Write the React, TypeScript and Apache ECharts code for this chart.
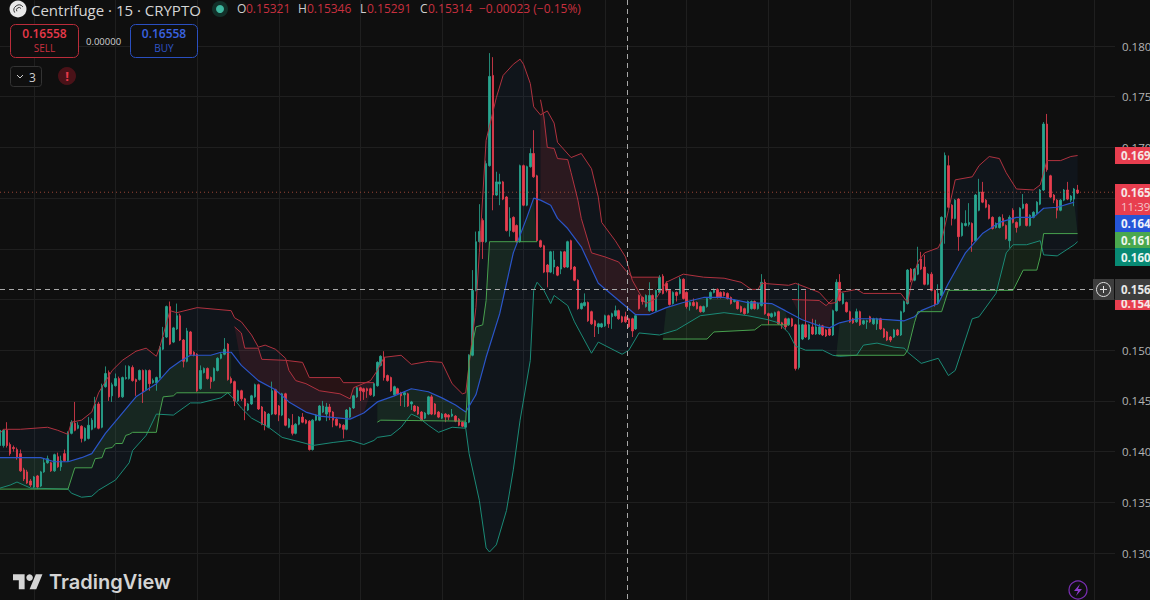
import React, { useEffect, useRef } from "react";
import * as echarts from "echarts";

// [open, close, low, high], one row per 15-minute candle
const candles: number[][] = [
[.1406,.1421,.1404,.1423],[.1406,.1421,.1404,.1422],[.1421,.1406,.1404,.1429],[.1407,.1398,.1396,.1409],[.1404,.1403,.1400,.1406],[.1402,.1394,.1392,.1404],[.1398,.1381,.1380,.1402],[.1382,.1373,.1371,.1384],[.1380,.1369,.1368,.1382],[.1371,.1367,.1365,.1373],
[.1365,.1375,.1364,.1376],[.1376,.1365,.1363,.1377],[.1366,.1380,.1365,.1381],[.1380,.1389,.1379,.1393],[.1389,.1393,.1388,.1396],[.1389,.1381,.1380,.1390],[.1381,.1397,.1380,.1398],[.1395,.1385,.1384,.1399],[.1385,.1391,.1381,.1396],[.1398,.1391,.1390,.1402],
[.1391,.1419,.1390,.1420],[.1418,.1429,.1417,.1431],[.1428,.1421,.1420,.1449],[.1423,.1426,.1422,.1429],[.1425,.1413,.1409,.1426],[.1411,.1423,.1410,.1424],[.1413,.1426,.1412,.1434],[.1422,.1431,.1421,.1433],[.1424,.1447,.1423,.1454],[.1447,.1423,.1422,.1449],
[.1424,.1465,.1423,.1467],[.1464,.1477,.1463,.1484],[.1478,.1454,.1450,.1480],[.1455,.1466,.1449,.1468],[.1465,.1472,.1464,.1477],[.1472,.1454,.1453,.1474],[.1454,.1473,.1453,.1474],[.1472,.1473,.1471,.1485],[.1472,.1484,.1471,.1485],[.1483,.1470,.1469,.1485],
[.1471,.1469,.1455,.1472],[.1471,.1480,.1470,.1481],[.1480,.1459,.1448,.1481],[.1461,.1480,.1460,.1481],[.1480,.1467,.1460,.1481],[.1468,.1470,.1467,.1472],[.1468,.1473,.1460,.1474],[.1473,.1503,.1472,.1504],[.1501,.1513,.1500,.1523],[.1513,.1543,.1512,.1544],
[.1543,.1506,.1505,.1548],[.1508,.1522,.1507,.1523],[.1521,.1534,.1520,.1546],[.1534,.1510,.1509,.1536],[.1510,.1489,.1483,.1511],[.1489,.1519,.1488,.1522],[.1518,.1496,.1495,.1519],[.1498,.1495,.1494,.1499],[.1496,.1460,.1459,.1497],[.1462,.1480,.1461,.1485],
[.1478,.1482,.1477,.1483],[.1482,.1472,.1471,.1483],[.1473,.1469,.1462,.1474],[.1470,.1482,.1469,.1483],[.1480,.1492,.1479,.1493],[.1492,.1496,.1491,.1497],[.1496,.1501,.1495,.1512],[.1506,.1471,.1470,.1507],[.1472,.1468,.1467,.1474],[.1469,.1450,.1445,.1470],
[.1450,.1460,.1449,.1461],[.1460,.1452,.1450,.1461],[.1452,.1445,.1431,.1453],[.1441,.1447,.1440,.1448],[.1447,.1455,.1446,.1456],[.1454,.1466,.1453,.1467],[.1466,.1442,.1441,.1467],[.1444,.1427,.1426,.1445],[.1439,.1426,.1421,.1440],[.1424,.1437,.1423,.1438],
[.1437,.1460,.1436,.1469],[.1461,.1437,.1436,.1462],[.1445,.1436,.1430,.1446],[.1436,.1457,.1435,.1458],[.1457,.1426,.1425,.1458],[.1424,.1432,.1423,.1433],[.1426,.1418,.1416,.1437],[.1418,.1427,.1417,.1428],[.1427,.1434,.1426,.1435],[.1434,.1429,.1428,.1438],
[.1431,.1428,.1427,.1432],[.1430,.1402,.1401,.1431],[.1402,.1431,.1401,.1432],[.1431,.1436,.1430,.1437],[.1431,.1445,.1430,.1446],[.1439,.1445,.1438,.1450],[.1437,.1444,.1430,.1448],[.1444,.1439,.1431,.1447],[.1439,.1431,.1424,.1440],[.1432,.1426,.1425,.1433],
[.1427,.1424,.1423,.1428],[.1426,.1422,.1413,.1427],[.1422,.1441,.1421,.1442],[.1434,.1443,.1433,.1444],[.1443,.1455,.1442,.1456],[.1454,.1463,.1453,.1464],[.1463,.1460,.1450,.1464],[.1462,.1459,.1451,.1463],[.1462,.1460,.1453,.1463],[.1462,.1456,.1455,.1463],
[.1455,.1467,.1454,.1468],[.1465,.1488,.1464,.1489],[.1485,.1494,.1484,.1495],[.1493,.1473,.1470,.1499],[.1475,.1470,.1469,.1476],[.1473,.1460,.1459,.1474],[.1456,.1464,.1455,.1465],[.1462,.1457,.1456,.1463],[.1458,.1455,.1445,.1459],[.1456,.1458,.1444,.1459],
[.1457,.1445,.1444,.1458],[.1447,.1449,.1441,.1450],[.1445,.1440,.1439,.1446],[.1444,.1437,.1436,.1445],[.1439,.1431,.1430,.1440],[.1433,.1438,.1432,.1439],[.1437,.1454,.1436,.1455],[.1454,.1437,.1436,.1456],[.1447,.1437,.1436,.1448],[.1439,.1434,.1433,.1440],
[.1433,.1437,.1432,.1438],[.1437,.1434,.1429,.1438],[.1436,.1434,.1431,.1437],[.1435,.1437,.1434,.1442],[.1435,.1430,.1429,.1436],[.1432,.1426,.1425,.1433],[.1429,.1425,.1424,.1430],[.1424,.1429,.1423,.1430],[.1429,.1495,.1428,.1496],[.1495,.1559,.1494,.1579],
[.1559,.1607,.1558,.1617],[.1607,.1617,.1606,.1644],[.1628,.1607,.1590,.1630],[.1607,.1684,.1606,.1687],[.1682,.1770,.1681,.1793],[.1771,.1653,.1638,.1789],[.1653,.1666,.1652,.1676],[.1664,.1666,.1643,.1674],[.1666,.1649,.1648,.1667],[.1651,.1618,.1617,.1652],
[.1618,.1630,.1612,.1641],[.1631,.1617,.1616,.1632],[.1623,.1607,.1606,.1624],[.1607,.1682,.1606,.1683],[.1682,.1643,.1642,.1683],[.1643,.1681,.1642,.1682],[.1681,.1694,.1680,.1699],[.1694,.1671,.1670,.1717],[.1672,.1608,.1607,.1673],[.1608,.1602,.1601,.1609],
[.1603,.1577,.1576,.1604],[.1584,.1577,.1562,.1585],[.1577,.1597,.1576,.1598],[.1582,.1589,.1575,.1598],[.1582,.1574,.1573,.1583],[.1580,.1597,.1575,.1598],[.1597,.1582,.1581,.1598],[.1582,.1607,.1581,.1608],[.1608,.1580,.1579,.1609],[.1582,.1569,.1568,.1583],
[.1569,.1541,.1540,.1570],[.1541,.1546,.1540,.1547],[.1544,.1547,.1543,.1556],[.1547,.1529,.1528,.1548],[.1538,.1526,.1525,.1539],[.1529,.1524,.1513,.1530],[.1523,.1526,.1516,.1527],[.1523,.1526,.1522,.1527],[.1524,.1534,.1523,.1535],[.1534,.1526,.1522,.1535],
[.1533,.1536,.1521,.1537],[.1534,.1539,.1533,.1544],[.1539,.1531,.1530,.1540],[.1533,.1528,.1527,.1534],[.1533,.1528,.1527,.1538],[.1531,.1523,.1522,.1532],[.1531,.1519,.1513,.1532],[.1521,.1534,.1520,.1535],[.1554,.1541,.1540,.1555],[.1552,.1548,.1545,.1553],
[.1543,.1554,.1542,.1555],[.1539,.1554,.1538,.1567],[.1554,.1539,.1538,.1555],[.1539,.1559,.1538,.1560],[.1557,.1572,.1556,.1574],[.1573,.1556,.1555,.1575],[.1566,.1559,.1557,.1568],[.1559,.1545,.1544,.1560],[.1546,.1557,.1545,.1558],[.1557,.1554,.1548,.1558],
[.1556,.1570,.1555,.1572],[.1570,.1551,.1550,.1571],[.1557,.1543,.1541,.1558],[.1544,.1547,.1539,.1548],[.1547,.1544,.1543,.1551],[.1547,.1541,.1540,.1548],[.1543,.1538,.1537,.1544],[.1538,.1543,.1537,.1544],[.1543,.1551,.1542,.1552],[.1551,.1557,.1550,.1558],
[.1557,.1559,.1556,.1561],[.1560,.1552,.1551,.1561],[.1557,.1552,.1551,.1558],[.1557,.1554,.1553,.1558],[.1556,.1551,.1550,.1557],[.1552,.1546,.1545,.1553],[.1548,.1549,.1547,.1550],[.1548,.1541,.1540,.1549],[.1543,.1538,.1537,.1544],[.1541,.1536,.1535,.1542],
[.1537,.1548,.1536,.1549],[.1541,.1548,.1540,.1549],[.1548,.1541,.1540,.1549],[.1541,.1546,.1540,.1547],[.1544,.1567,.1543,.1575],[.1567,.1536,.1535,.1570],[.1536,.1534,.1525,.1537],[.1533,.1536,.1532,.1537],[.1534,.1537,.1533,.1538],[.1538,.1526,.1525,.1539],
[.1527,.1525,.1521,.1528],[.1531,.1523,.1520,.1532],[.1525,.1531,.1524,.1532],[.1531,.1524,.1523,.1532],[.1525,.1482,.1480,.1526],[.1483,.1525,.1481,.1566],[.1511,.1525,.1510,.1526],[.1525,.1513,.1512,.1559],[.1511,.1525,.1510,.1526],[.1523,.1516,.1515,.1531],
[.1516,.1523,.1515,.1530],[.1516,.1523,.1515,.1526],[.1524,.1515,.1514,.1525],[.1520,.1514,.1513,.1521],[.1521,.1515,.1514,.1522],[.1515,.1539,.1514,.1540],[.1539,.1567,.1538,.1570],[.1567,.1549,.1548,.1575],[.1546,.1556,.1545,.1557],[.1547,.1538,.1537,.1548],
[.1538,.1528,.1527,.1539],[.1531,.1527,.1526,.1532],[.1528,.1538,.1527,.1541],[.1538,.1525,.1524,.1539],[.1526,.1529,.1525,.1530],[.1528,.1529,.1521,.1530],[.1533,.1528,.1527,.1534],[.1526,.1531,.1525,.1532],[.1526,.1531,.1520,.1532],[.1531,.1521,.1520,.1532],
[.1521,.1513,.1512,.1522],[.1518,.1510,.1509,.1519],[.1513,.1510,.1508,.1514],[.1513,.1520,.1512,.1521],[.1520,.1515,.1514,.1521],[.1515,.1538,.1514,.1539],[.1538,.1548,.1537,.1549],[.1546,.1579,.1545,.1580],[.1580,.1569,.1567,.1581],[.1569,.1580,.1568,.1581],
[.1575,.1585,.1574,.1602],[.1590,.1580,.1579,.1597],[.1582,.1565,.1564,.1594],[.1565,.1575,.1564,.1576],[.1575,.1559,.1558,.1577],[.1559,.1545,.1543,.1560],[.1546,.1556,.1545,.1565],[.1554,.1631,.1553,.1632],[.1631,.1692,.1605,.1695],[.1682,.1641,.1640,.1692],
[.1643,.1630,.1623,.1644],[.1630,.1648,.1629,.1649],[.1649,.1612,.1598,.1650],[.1613,.1625,.1612,.1626],[.1623,.1625,.1622,.1638],[.1624,.1626,.1622,.1645],[.1625,.1607,.1597,.1626],[.1608,.1653,.1607,.1654],[.1638,.1656,.1637,.1669],[.1656,.1646,.1645,.1666],
[.1648,.1641,.1640,.1649],[.1643,.1630,.1629,.1644],[.1631,.1620,.1619,.1632],[.1621,.1625,.1620,.1626],[.1621,.1631,.1620,.1632],[.1630,.1623,.1622,.1634],[.1623,.1610,.1609,.1624],[.1608,.1631,.1601,.1633],[.1638,.1626,.1625,.1640],[.1626,.1621,.1616,.1627],
[.1623,.1640,.1622,.1641],[.1640,.1644,.1639,.1654],[.1644,.1623,.1622,.1645],[.1623,.1633,.1622,.1634],[.1631,.1636,.1630,.1637],[.1635,.1646,.1634,.1647],[.1644,.1658,.1643,.1659],[.1658,.1723,.1657,.1725],[.1723,.1678,.1676,.1733],[.1672,.1651,.1650,.1673],
[.1653,.1648,.1645,.1654],[.1648,.1638,.1630,.1649],[.1638,.1648,.1637,.1649],[.1648,.1658,.1647,.1659],[.1658,.1649,.1648,.1666],[.1648,.1652,.1646,.1653],[.1649,.1659,.1642,.1660],[.1658,.1655,.1654,.1663],
];

// Indicator vertices: [candle index, price]
const bbUpper: number[][] = [[0,.1418],[1,.1422],[6,.1422],[14,.1424],[17,.1421],[20,.1417],[21,.1429],[24,.1431],[27,.1439],[29,.1458],[33,.1480],[36,.1490],[40,.1499],[43,.1502],[46,.1494],[47,.1503],[50,.1539],[52,.1537],[58,.1542],[68,.1539],[69,.1532],[71,.1528],[74,.1515],[76,.1503],[78,.1505],[81,.1501],[84,.1492],[85,.1480],[87,.1470],[90,.1467],[94,.1460],[100,.1457],[103,.1452],[104,.1463],[109,.1470],[111,.1480],[113,.1493],[118,.1495],[121,.1486],[126,.1489],[130,.1488],[133,.1467],[136,.1457],[137,.1458],[140,.1542],[141,.1596],[143,.1707],[146,.1749],[148,.1771],[151,.1782],[153,.1787],[154,.1782],[156,.1763],[157,.1740],[159,.1732],[161,.1736],[163,.1724],[164,.1705],[168,.1690],[171,.1694],[174,.1679],[176,.1651],[177,.1626],[181,.1608],[184,.1592],[186,.1569],[189,.1551],[190,.1546],[193,.1551],[196,.1567],[201,.1575],[207,.1572],[213,.1571],[218,.1567],[221,.1560],[223,.1560],[224,.1566],[232,.1564],[234,.1566],[241,.1557],[244,.1546],[246,.1547],[247,.1557],[249,.1558],[252,.1560],[254,.1556],[265,.1556],[267,.1547],[268,.1564],[270,.1587],[272,.1596],[276,.1601],[277,.1608],[279,.1638],[281,.1668],[286,.1671],[288,.1682],[291,.1691],[294,.1689],[296,.1675],[299,.1659],[304,.1658],[306,.1663],[308,.1687],[312,.1687],[315,.1691],[317,.1692]];
const bbBasis: number[][] = [[0,.1394],[6,.1394],[12,.1394],[16,.1390],[20,.1390],[24,.1394],[27,.1398],[31,.1418],[36,.1438],[40,.1454],[46,.1467],[50,.1482],[53,.1489],[56,.1495],[62,.1495],[65,.1498],[68,.1498],[71,.1485],[76,.1470],[81,.1461],[85,.1449],[90,.1439],[94,.1435],[100,.1433],[103,.1432],[107,.1438],[111,.1449],[116,.1455],[121,.1462],[126,.1459],[130,.1453],[134,.1446],[137,.1439],[140,.1456],[143,.1493],[147,.1536],[151,.1596],[155,.1631],[157,.1650],[159,.1648],[162,.1643],[164,.1630],[167,.1620],[171,.1602],[176,.1566],[181,.1552],[187,.1535],[191,.1535],[196,.1542],[201,.1547],[207,.1552],[213,.1552],[220,.1547],[227,.1546],[231,.1539],[236,.1530],[241,.1524],[244,.1522],[247,.1527],[252,.1531],[257,.1531],[262,.1530],[266,.1529],[269,.1533],[271,.1539],[276,.1546],[279,.1566],[284,.1596],[289,.1615],[294,.1626],[299,.1631],[304,.1631],[307,.1640],[311,.1641],[316,.1646]];
const bbLower: number[][] = [[0,.1364],[3,.1367],[5,.1370],[9,.1364],[20,.1363],[21,.1359],[24,.1355],[27,.1356],[29,.1362],[34,.1372],[38,.1389],[39,.1401],[43,.1416],[46,.1437],[51,.1436],[56,.1448],[59,.1448],[65,.1453],[67,.1458],[69,.1451],[71,.1443],[74,.1433],[79,.1424],[83,.1414],[90,.1408],[92,.1406],[98,.1409],[103,.1411],[107,.1407],[110,.1411],[111,.1414],[115,.1416],[118,.1424],[121,.1437],[123,.1434],[126,.1426],[129,.1419],[133,.1424],[137,.1423],[138,.1398],[141,.1352],[143,.1305],[144,.1301],[146,.1308],[149,.1342],[151,.1382],[153,.1431],[156,.1490],[157,.1559],[158,.1567],[160,.1559],[162,.1546],[163,.1554],[167,.1544],[169,.1528],[174,.1497],[176,.1508],[183,.1496],[185,.1500],[188,.1517],[194,.1515],[199,.1520],[206,.1534],[213,.1537],[220,.1534],[226,.1530],[229,.1527],[232,.1517],[234,.1504],[237,.1500],[242,.1500],[245,.1495],[247,.1494],[252,.1495],[254,.1505],[258,.1507],[263,.1503],[266,.1502],[267,.1498],[271,.1487],[276,.1492],[279,.1475],[281,.1480],[286,.1531],[288,.1533],[293,.1556],[296,.1596],[298,.1604],[302,.1604],[306,.1608],[307,.1594],[311,.1593],[316,.1604],[317,.1607]];

const trendUp1: number[][] = [[0,.1363],[20,.1363],[22,.1384],[27,.1384],[28,.1393],[30,.1394],[31,.1403],[33,.1404],[34,.1408],[36,.1408],[37,.1416],[38,.1417],[39,.1419],[46,.1419],[47,.1439],[48,.1454],[51,.1455],[52,.1458],[68,.1458]];
const trendDown1: number[][] = [[69,.1523],[71,.1517],[72,.1502],[76,.1502],[77,.1491],[84,.1490],[89,.1488],[91,.1473],[100,.1473],[101,.1468],[110,.1468]];
const trendUp2: number[][] = [[111,.1429],[112,.1431],[137,.1430],[138,.1490],[140,.1523],[142,.1525],[143,.1549],[144,.1607],[158,.1607]];
const trendDown2: number[][] = [[159,.1747],[160,.1730],[161,.1700],[163,.1699],[164,.1689],[167,.1688],[168,.1675],[170,.1648],[171,.1630],[174,.1596],[178,.1592],[182,.1587],[184,.1579],[186,.1572],[194,.1572]];
const trendUp3: number[][] = [[195,.1511],[208,.1511],[210,.1518],[222,.1520],[224,.1525],[232,.1525]];
const trendDown3: number[][] = [[233,.1550],[241,.1549],[243,.1544],[245,.1550]];
const trendUp4: number[][] = [[246,.1495],[266,.1495],[267,.1500],[269,.1527],[270,.1538],[277,.1538],[279,.1559],[298,.1559],[301,.1579],[305,.1579],[306,.1592],[307,.1615],[317,.1615]];

const categoryCount = 329;
const categories = Array.from({ length: categoryCount }, (_, i) => String(i));
const lastPrice = 0.16558;
const lastPriceLine: any[] = [["0", lastPrice], [String(categoryCount - 1), lastPrice]];
const priceTags = ["0.169", "0.165", "11:39", "0.164", "0.161", "0.160", "0.156", "0.154"];
const visibleAxisLabels = ["0.180", "0.175", "0.170", "0.150", "0.145", "0.140", "0.135", "0.130"];
const quote = { o: "0.15321", h: "0.15346", l: "0.15291", c: "0.15314", chg: "−0.00023 (−0.15%)" };

const UP = "#28a68f";
const DOWN = "#e83e4f";
const FONT = "'Open Sans', sans-serif";

echarts.graphic.registerShape(
  "tvmark",
  echarts.graphic.extendPath("M14 22H7V11H0V4h14v18zM28 22h-8l7.5-18h8L28 22z", {})
);

function between(line: number[][], from: number, to: number) {
  return line.filter((p) => p[0] >= from && p[0] <= to);
}

function band(name: string, top: number[][], bottom: number[][], fill: string) {
  return {
    type: "custom",
    name,
    silent: true,
    z: 1,
    clip: true,
    data: [[0, 0.15]],
    renderItem: (_p: any, api: any) => ({
      type: "polygon",
      shape: {
        points: [...top, ...bottom.slice().reverse()].map((p) => api.coord(p)),
      },
      style: { fill },
    }),
  };
}

function cloud(name: string, trend: number[][], fill: string) {
  const from = trend[0][0];
  const to = trend[trend.length - 1][0];
  return band(name, trend, between(bbBasis, from, to), fill);
}

function line(name: string, data: any[], color: string, width = 1) {
  return {
    type: "line",
    name,
    data,
    symbol: "none",
    silent: true,
    z: 4,
    animation: false,
    lineStyle: { color, width },
    itemStyle: { color },
  };
}

function txt(x: number, y: number, text: string, fill: string, fontSize: number, extra: any = {}) {
  return {
    type: "text",
    x,
    y,
    z: 50,
    silent: true,
    style: { text, fill, fontSize, fontFamily: FONT, verticalAlign: "middle", ...extra },
  };
}

function tag(y: number, h: number, fill: string) {
  return { type: "rect", z: 45, silent: true, shape: { x: 1115, y, width: 35, height: h }, style: { fill } };
}

const graphics: any[] = [
  // crosshair
  { type: "line", z: 30, silent: true, shape: { x1: 627.5, y1: 0, x2: 627.5, y2: 600 }, style: { stroke: "#a8a8a8", lineWidth: 1, lineDash: [5, 4] } },
  { type: "line", z: 30, silent: true, shape: { x1: 0, y1: 289.5, x2: 1094, y2: 289.5 }, style: { stroke: "#a8a8a8", lineWidth: 1, lineDash: [5, 4] } },
  // header
  { type: "circle", z: 50, silent: true, shape: { cx: 18, cy: 9, r: 8.5 }, style: { fill: "#e8e8e8" } },
  { type: "arc", z: 51, silent: true, shape: { cx: 19, cy: 10, r: 5, startAngle: 2.6, endAngle: 5.6 }, style: { stroke: "#333", lineWidth: 1, fill: "none" } },
  { type: "arc", z: 51, silent: true, shape: { cx: 19, cy: 10, r: 2.5, startAngle: 2.6, endAngle: 5.6 }, style: { stroke: "#333", lineWidth: 1, fill: "none" } },
  txt(31, 9.5, "Centrifuge · 15 · CRYPTO", "#d6d6d6", 15),
  { type: "circle", z: 50, silent: true, shape: { cx: 220, cy: 9, r: 8 }, style: { fill: "#123029" } },
  { type: "circle", z: 51, silent: true, shape: { cx: 220, cy: 9, r: 4 }, style: { fill: "#3fb8a0" } },
  txt(237, 8.5, "O", "#cfcfcf", 12),
  txt(246, 8.5, quote.o, "#c9303f", 12),
  txt(298, 8.5, "H", "#cfcfcf", 12),
  txt(307, 8.5, quote.h, "#c9303f", 12),
  txt(360, 8.5, "L", "#cfcfcf", 12),
  txt(367, 8.5, quote.l, "#c9303f", 12),
  txt(420, 8.5, "C", "#cfcfcf", 12),
  txt(428, 8.5, quote.c, "#c9303f", 12),
  txt(479, 8.5, quote.chg, "#c9303f", 12),
  // sell and buy
  { type: "rect", z: 50, silent: true, shape: { x: 10.5, y: 24.5, width: 68, height: 33, r: 5 }, style: { fill: "#0f0f0f", stroke: "#b92c3a", lineWidth: 1 } },
  txt(44.5, 33, "0.16558", "#e8394a", 12, { align: "center", fontWeight: 600 }),
  txt(44.5, 48, "SELL", "#c9303f", 10, { align: "center" }),
  txt(86, 41, "0.00000", "#cfcfcf", 9.5),
  { type: "rect", z: 50, silent: true, shape: { x: 130.5, y: 24.5, width: 67, height: 33, r: 5 }, style: { fill: "#0f0f0f", stroke: "#2a4fc0", lineWidth: 1 } },
  txt(164, 33, "0.16558", "#3a63e0", 12, { align: "center", fontWeight: 600 }),
  txt(164, 48, "BUY", "#2f55c8", 10, { align: "center" }),
  // collapsed indicators
  { type: "rect", z: 50, silent: true, shape: { x: 10.5, y: 66.5, width: 31, height: 20, r: 3 }, style: { fill: "#0f0f0f", stroke: "#333", lineWidth: 1 } },
  { type: "polyline", z: 51, silent: true, shape: { points: [[17, 75], [20, 78], [23, 75]] }, style: { stroke: "#cfcfcf", fill: "none", lineWidth: 1 } },
  txt(29, 77, "3", "#cfcfcf", 12),
  { type: "circle", z: 50, silent: true, shape: { cx: 67, cy: 76, r: 9 }, style: { fill: "#4a1218" } },
  txt(67, 76, "!", "#e8394a", 13, { align: "center", fontWeight: 700 }),
  // price tags
  tag(147, 17, "#e83e4f"),
  tag(184, 31, "#e83e4f"),
  tag(215, 17, "#2555d8"),
  tag(232, 16, "#4aa84e"),
  tag(248, 18, "#088a74"),
  tag(299, 11, "#e83e4f"),
  txt(1121, 303, priceTags[7], "#f5e6e6", 11.5, { fontWeight: 700 }),
  { type: "rect", z: 51, silent: true, shape: { x: 1115, y: 279, width: 35, height: 21 }, style: { fill: "#3d3d3d" } },
  { type: "rect", z: 44, silent: true, shape: { x: 1093, y: 279, width: 21, height: 21 }, style: { fill: "#3d3d3d" } },
  { type: "circle", z: 46, silent: true, shape: { cx: 1103.5, cy: 289.5, r: 7 }, style: { fill: "none", stroke: "#e0e0e0", lineWidth: 1 } },
  { type: "line", z: 46, silent: true, shape: { x1: 1100, y1: 289.5, x2: 1107, y2: 289.5 }, style: { stroke: "#e0e0e0", lineWidth: 1 } },
  { type: "line", z: 46, silent: true, shape: { x1: 1103.5, y1: 286, x2: 1103.5, y2: 293 }, style: { stroke: "#e0e0e0", lineWidth: 1 } },
  txt(1121, 155.5, priceTags[0], "#f5e6e6", 11.5, { fontWeight: 700 }),
  txt(1121, 192, priceTags[1], "#f5e6e6", 11.5, { fontWeight: 700 }),
  txt(1121, 206, priceTags[2], "#f3c4c8", 11.5),
  txt(1121, 223.5, priceTags[3], "#eef1fb", 11.5, { fontWeight: 700 }),
  txt(1121, 240, priceTags[4], "#eef6ee", 11.5, { fontWeight: 700 }),
  txt(1121, 257, priceTags[5], "#e8f5f2", 11.5, { fontWeight: 700 }),
  { ...txt(1121, 289.5, priceTags[6], "#e8e8e8", 11.5, { fontWeight: 700 }), z: 52 },
  // TradingView mark
  { type: "tvmark", z: 50, silent: true, x: 13, y: 571, scaleX: 0.83, scaleY: 0.83, style: { fill: "#d4d4d4" } },
  { type: "circle", z: 50, silent: true, shape: { cx: 29.6, cy: 577.6, r: 3.3 }, style: { fill: "#d4d4d4" } },
  txt(49, 582, "TradingView", "#d4d4d4", 20, { fontFamily: "Inter, sans-serif", fontWeight: 600 }),
  // bolt
  { type: "circle", z: 50, silent: true, shape: { cx: 1078, cy: 590, r: 9 }, style: { fill: "none", stroke: "#7b2fb5", lineWidth: 1.2 } },
  { type: "polygon", z: 50, silent: true, shape: { points: [[1080, 584], [1074, 591], [1078, 591], [1076, 596], [1082, 589], [1078, 589]] }, style: { fill: "#8d3bcc" } },
];

export default function App() {
  const ref = useRef<HTMLDivElement>(null);
  useEffect(() => {
    if (!ref.current) return;
    document.body.style.margin = "0";
    const chart = echarts.init(ref.current, undefined, { renderer: "svg" });
    chart.setOption({
      animation: false,
      backgroundColor: "#0f0f0f",
      grid: { left: 0, top: -4.7, width: 1115, height: 608.4, containLabel: false, outerBoundsMode: "none" },
      xAxis: {
        type: "category",
        data: categories,
        boundaryGap: false,
        axisLine: { show: false },
        axisTick: { show: false },
        axisLabel: { show: false },
        splitLine: {
          show: true,
          interval: (i: number) => (i - 10) % 24 === 0,
          lineStyle: { color: "#1f1f1f", width: 1 },
        },
      },
      yAxis: {
        type: "value",
        position: "right",
        min: 0.125,
        max: 0.185,
        interval: 0.005,
        axisLine: { show: false },
        axisTick: { show: false },
        axisLabel: {
          color: "#b4b4b4",
          fontSize: 11.5,
          fontFamily: FONT,
          margin: 7,
          align: "left",
          formatter: (v: number) => (visibleAxisLabels.includes(v.toFixed(3)) ? v.toFixed(3) : ""),
        },
        splitLine: { show: true, lineStyle: { color: "#1f1f1f", width: 1 } },
      },
      series: [
        band("Band fill", bbUpper, bbLower, "rgba(40,110,190,0.075)"),
        cloud("Up cloud 1", trendUp1, "rgba(76,175,80,0.12)"),
        cloud("Down cloud 1", trendDown1, "rgba(242,54,69,0.11)"),
        cloud("Up cloud 2", trendUp2, "rgba(76,175,80,0.12)"),
        cloud("Down cloud 2", trendDown2, "rgba(242,54,69,0.12)"),
        cloud("Up cloud 3", trendUp3, "rgba(76,175,80,0.12)"),
        cloud("Down cloud 3", trendDown3, "rgba(242,54,69,0.11)"),
        cloud("Up cloud 4", trendUp4, "rgba(76,175,80,0.12)"),
        {
          type: "candlestick",
          name: "CFG",
          data: candles,
          barWidth: 2,
          z: 3,
          silent: true,
          itemStyle: { color: UP, color0: DOWN, borderColor: UP, borderColor0: DOWN, borderWidth: 0.8 },
        },
        { ...line("Last price", lastPriceLine, "#a34a38"), lineStyle: { color: "#9a4636", type: [1, 3], width: 1 } },
        line("BB upper", bbUpper, "#b0323f"),
        line("BB lower", bbLower, "#1b8a76"),
        line("Basis", bbBasis, "#2b55c9", 1.2),
        line("Trend up 1", trendUp1, "#47a04e"),
        line("Trend down 1", trendDown1, "#b0323f"),
        line("Trend up 2", trendUp2, "#47a04e"),
        line("Trend down 2", trendDown2, "#b0323f"),
        line("Trend up 3", trendUp3, "#47a04e"),
        line("Trend down 3", trendDown3, "#b0323f"),
        line("Trend up 4", trendUp4, "#47a04e"),
      ],
      graphic: { elements: graphics },
    });
    return () => chart.dispose();
  }, []);
  return <div ref={ref} style={{ position: "fixed", left: 0, top: 0, width: 1150, height: 600 }} />;
}
